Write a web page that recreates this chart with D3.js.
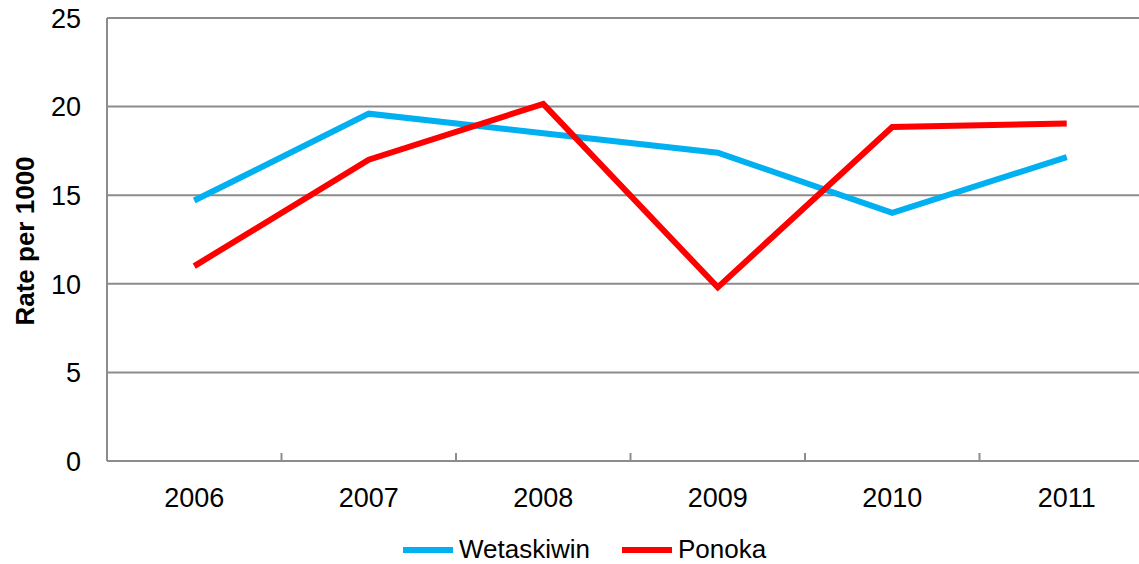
<!DOCTYPE html>
<html>
<head>
<meta charset="utf-8">
<script src="https://cdn.jsdelivr.net/npm/d3@7"></script>
<style>
  body { margin: 0; background: #fff; }
  text { font-family: "Liberation Sans", Arial, sans-serif; fill: #000; }
</style>
</head>
<body>
<div id="chart"></div>
<script>
// Data
var years = ["2006", "2007", "2008", "2009", "2010", "2011"];
var wetaskiwin = [14.7, 19.6, 18.5, 17.4, 14.0, 17.15];
var ponoka = [11.0, 17.0, 20.15, 9.8, 18.85, 19.05];
var yTicks = [0, 5, 10, 15, 20, 25];

var seriesNames = ["Wetaskiwin", "Ponoka"];
var seriesColors = ["#00b0f0", "#ff0000"];

var svgWidth = 1139;
var svgHeight = 564;

var margin = { top: 18, left: 107 };
var width = 1047;   // plot runs past the right edge of the window
var height = 443;

var svg = d3.select("#chart")
  .append("svg")
  .attr("width", svgWidth)
  .attr("height", svgHeight);

var plotGroup = svg.append("g")
  .attr("transform", `translate(${margin.left}, ${margin.top})`);

// Scales
var xScale = d3.scaleBand()
  .domain(years)
  .range([0, width]);

var yScale = d3.scaleLinear()
  .domain([0, 25])
  .range([height, 0]);

// Gridlines
plotGroup.selectAll(".grid")
  .data(yTicks)
  .enter()
  .append("line")
  .attr("x1", 0)
  .attr("x2", width)
  .attr("y1", d => yScale(d))
  .attr("y2", d => yScale(d))
  .attr("stroke", "#8c8c8c")
  .attr("stroke-width", 2);

// Left axis line
plotGroup.append("line")
  .attr("x1", 0).attr("x2", 0)
  .attr("y1", 0).attr("y2", height)
  .attr("stroke", "#8c8c8c")
  .attr("stroke-width", 2);

// Y tick labels
plotGroup.selectAll(".ylab")
  .data(yTicks)
  .enter()
  .append("text")
  .attr("x", -26)
  .attr("y", d => yScale(d))
  .attr("dy", "0.36em")
  .attr("text-anchor", "end")
  .style("font-size", "27px")
  .text(d => d);

// X ticks between categories
plotGroup.selectAll(".xtick")
  .data(years.slice(1))
  .enter()
  .append("line")
  .attr("x1", d => xScale(d))
  .attr("x2", d => xScale(d))
  .attr("y1", height - 8)
  .attr("y2", height)
  .attr("stroke", "#8c8c8c")
  .attr("stroke-width", 2);

// X labels
plotGroup.selectAll(".xlab")
  .data(years)
  .enter()
  .append("text")
  .attr("x", d => xScale(d) + xScale.bandwidth() / 2)
  .attr("y", height + 46)
  .attr("text-anchor", "middle")
  .style("font-size", "27px")
  .text(d => d);

// Lines
var line = d3.line()
  .x((d, i) => xScale(years[i]) + xScale.bandwidth() / 2)
  .y(d => yScale(d));

[wetaskiwin, ponoka].forEach(function(values, i) {
  plotGroup.append("path")
    .datum(values)
    .attr("d", line)
    .attr("fill", "none")
    .attr("stroke", seriesColors[i])
    .attr("stroke-width", 6)
    .attr("stroke-linejoin", "miter");
});

// Y axis title
svg.append("text")
  .attr("transform", "translate(34, 241) rotate(-90)")
  .attr("text-anchor", "middle")
  .style("font-size", "26px")
  .style("font-weight", "bold")
  .text("Rate per 1000");

// Legend
var legendX = [403, 622];
seriesNames.forEach(function(name, i) {
  svg.append("line")
    .attr("x1", legendX[i])
    .attr("x2", legendX[i] + 50)
    .attr("y1", 550)
    .attr("y2", 550)
    .attr("stroke", seriesColors[i])
    .attr("stroke-width", 6);
  svg.append("text")
    .attr("x", legendX[i] + 56)
    .attr("y", 558)
    .style("font-size", "26px")
    .text(name);
});
</script>
</body>
</html>
